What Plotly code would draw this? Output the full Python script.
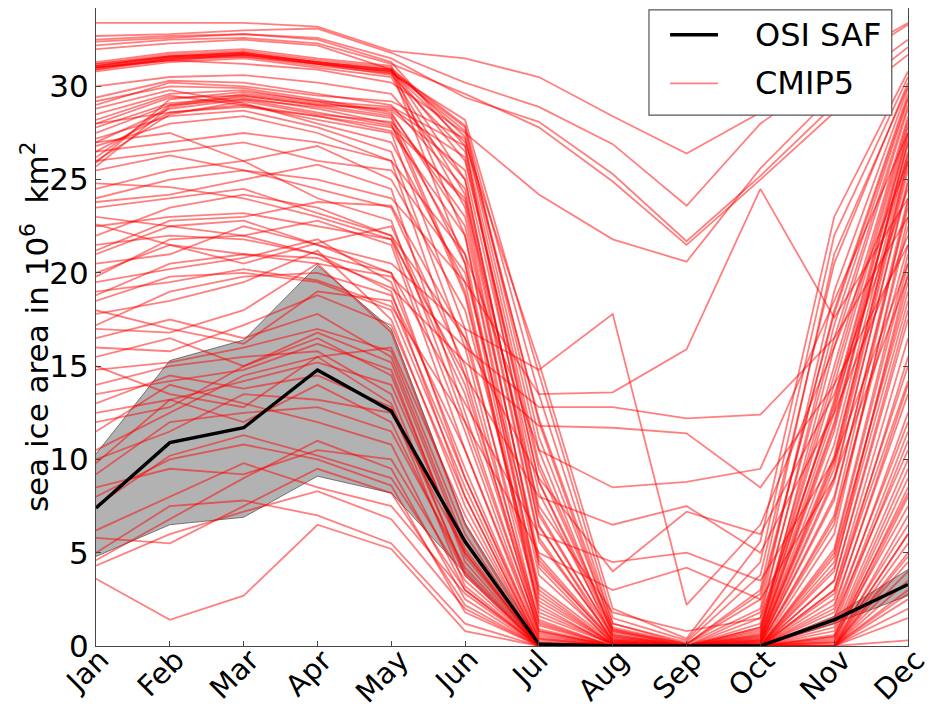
import plotly.graph_objects as go

# Month labels for the seasonal cycle
months = ["Jan", "Feb", "Mar", "Apr", "May", "Jun",
          "Jul", "Aug", "Sep", "Oct", "Nov", "Dec"]

# OSI SAF observed sea ice area (10^6 km^2): mean and spread envelope
osisaf_mean = [7.4, 10.9, 11.7, 14.8, 12.6, 5.6, 0.1, 0.0, 0.0, 0.0, 1.4, 3.3]
osisaf_low = [4.8, 6.5, 6.9, 9.1, 8.2, 3.9, 0.0, 0.0, 0.0, 0.0, 1.2, 2.7]
osisaf_high = [10.3, 15.3, 16.4, 20.4, 17.0, 6.6, 0.2, 0.0, 0.0, 0.0, 1.6, 4.1]

# CMIP5 model climatologies, grouped by their winter ice area
cmip5_summer_ice = [
    [33.4, 33.4, 33.4, 33.2, 31.9, 31.5, 30.5, 28.4, 26.4, 28.6, 31.2, 33.4],
    [32.7, 32.8, 33.0, 33.1, 31.8, 30.2, 28.9, 26.9, 23.6, 28.0, 30.8, 33.3],
    [32.4, 32.6, 32.8, 32.6, 31.5, 29.4, 28.1, 25.3, 21.7, 25.2, 29.0, 32.1],
    [32.2, 32.5, 32.6, 32.3, 31.2, 29.6, 27.8, 24.9, 21.5, 25.0, 28.6, 31.7],
    [31.0, 31.4, 31.2, 30.9, 30.2, 27.5, 24.2, 21.8, 20.6, 25.6, 29.6, 32.5],
]

cmip5_high = [
    [31.1, 31.6, 31.8, 31.3, 30.9, 27.9, 13.5, 1.2, 0.2, 3.8, 20.5, 30.2],
    [31.0, 31.5, 31.7, 31.2, 30.8, 27.6, 12.0, 0.9, 0.1, 2.5, 18.0, 29.6],
    [30.9, 31.4, 31.6, 31.1, 30.7, 28.2, 14.6, 1.5, 0.3, 4.5, 22.0, 30.5],
    [31.2, 31.7, 31.9, 31.4, 31.0, 27.3, 10.5, 0.6, 0.0, 1.8, 16.5, 29.0],
    [31.0, 31.5, 31.6, 31.2, 30.6, 26.5, 8.8, 0.4, 0.0, 1.2, 15.0, 28.4],
    [31.1, 31.6, 31.8, 31.3, 30.9, 25.0, 6.5, 0.2, 0.0, 0.8, 13.2, 27.8],
    [30.8, 31.3, 31.5, 31.0, 30.5, 23.5, 4.2, 0.1, 0.0, 0.5, 11.8, 26.9],
    [31.3, 31.8, 32.0, 31.5, 31.1, 22.0, 2.8, 0.1, 0.0, 0.4, 10.2, 26.0],
    [31.0, 31.4, 31.7, 31.2, 30.8, 27.0, 15.2, 2.0, 0.4, 5.6, 23.0, 30.8],
    [32.0, 32.3, 32.5, 32.2, 30.9, 26.0, 9.5, 0.8, 0.1, 2.0, 19.0, 29.9],
    [30.9, 31.5, 31.7, 31.2, 30.8, 27.8, 11.2, 1.0, 0.1, 3.0, 21.0, 30.0],
    [31.1, 31.6, 31.8, 31.3, 30.7, 24.2, 5.8, 0.3, 0.0, 1.0, 14.0, 28.0],
    [31.2, 31.6, 31.7, 31.3, 30.9, 20.5, 1.8, 0.1, 0.0, 0.6, 12.5, 27.5],
    [32.5, 32.7, 32.8, 32.5, 31.3, 26.8, 7.2, 0.5, 0.0, 1.5, 17.2, 29.3],
]

cmip5_upper_mid = [
    [29.4, 30.3, 30.2, 29.6, 29.0, 24.5, 7.0, 0.6, 0.0, 0.6, 12.0, 27.0],
    [29.2, 30.0, 29.9, 29.3, 28.6, 22.5, 4.8, 0.3, 0.0, 0.3, 9.5, 25.5],
    [28.5, 29.6, 29.8, 29.2, 28.9, 26.8, 9.8, 0.9, 0.0, 1.0, 14.5, 28.2],
    [28.0, 29.4, 29.5, 29.0, 28.4, 20.5, 3.2, 0.2, 0.0, 0.2, 7.8, 24.0],
    [27.8, 29.1, 29.4, 28.8, 28.0, 18.8, 2.0, 0.1, 0.0, 0.1, 6.5, 22.5],
    [27.5, 29.0, 29.6, 29.1, 28.7, 25.5, 8.2, 0.7, 0.0, 0.9, 13.0, 27.5],
    [27.0, 28.8, 29.3, 28.6, 27.9, 21.0, 2.6, 0.1, 0.0, 0.1, 8.8, 25.0],
    [26.5, 28.6, 29.0, 28.2, 27.5, 17.0, 1.2, 0.0, 0.0, 0.0, 5.2, 21.0],
    [26.0, 28.5, 29.2, 28.5, 28.1, 23.8, 5.6, 0.4, 0.0, 0.4, 10.8, 26.5],
    [25.7, 28.9, 29.5, 29.0, 28.8, 26.2, 8.8, 0.8, 0.0, 0.7, 16.0, 28.8],
    [28.8, 29.8, 29.1, 28.0, 27.0, 19.5, 1.6, 0.1, 0.0, 0.0, 6.0, 23.0],
    [29.0, 30.2, 30.0, 29.5, 29.2, 27.2, 12.2, 1.2, 0.1, 2.8, 17.8, 29.4],
    [27.2, 28.4, 28.7, 27.8, 26.5, 16.0, 0.8, 0.0, 0.0, 0.0, 4.5, 19.5],
    [28.2, 29.5, 29.0, 28.4, 27.6, 22.0, 3.8, 0.2, 0.0, 0.2, 9.0, 24.8],
    [26.8, 28.0, 28.4, 27.5, 26.0, 14.5, 0.6, 0.0, 0.0, 0.0, 3.5, 18.0],
    [30.0, 30.5, 30.6, 30.2, 29.6, 25.0, 6.4, 0.5, 0.0, 0.5, 11.5, 27.2],
    [25.9, 29.3, 29.7, 29.2, 28.5, 23.0, 4.4, 0.3, 0.0, 0.3, 10.0, 26.2],
    [26.2, 29.0, 29.3, 28.9, 28.3, 19.0, 2.4, 0.1, 0.0, 0.1, 7.0, 23.8],
]

cmip5_mid = [
    [25.5, 26.3, 25.5, 24.5, 23.5, 15.0, 1.4, 0.0, 0.0, 0.0, 5.0, 20.5],
    [24.5, 25.5, 26.0, 26.8, 25.0, 18.0, 3.0, 0.1, 0.0, 0.2, 8.0, 23.5],
    [23.8, 24.2, 25.0, 25.8, 24.5, 12.5, 0.8, 0.0, 0.0, 0.0, 3.5, 17.5],
    [23.0, 22.5, 22.0, 22.8, 21.5, 10.5, 0.4, 0.0, 0.0, 0.0, 2.5, 15.5],
    [22.0, 23.5, 24.2, 23.5, 22.0, 13.5, 1.1, 0.0, 0.0, 0.0, 4.2, 18.5],
    [21.2, 22.8, 23.0, 23.8, 23.6, 16.5, 2.2, 0.0, 0.0, 0.1, 6.8, 21.5],
    [20.5, 21.0, 22.5, 21.5, 20.0, 9.0, 0.2, 0.0, 0.0, 0.0, 2.0, 14.0],
    [26.0, 26.5, 27.0, 26.0, 25.5, 20.0, 4.6, 0.2, 0.0, 0.3, 9.8, 25.8],
    [19.8, 21.8, 22.0, 21.0, 19.0, 8.0, 0.1, 0.0, 0.0, 0.0, 1.5, 12.5],
    [24.8, 24.6, 24.0, 23.0, 21.8, 11.5, 0.5, 0.0, 0.0, 0.0, 3.0, 16.5],
    [22.6, 21.5, 20.5, 21.6, 22.5, 14.0, 1.3, 0.0, 0.0, 0.0, 4.8, 19.0],
    [27.0, 27.5, 26.0, 24.0, 22.8, 12.0, 0.9, 0.0, 0.0, 0.0, 4.0, 20.0],
]

cmip5_lower_mid = [
    [19.5, 20.2, 20.8, 21.8, 19.5, 9.5, 0.3, 0.0, 0.0, 0.0, 2.2, 13.5],
    [18.5, 19.8, 20.0, 19.5, 18.0, 8.5, 0.1, 0.0, 0.0, 0.0, 1.8, 12.0],
    [17.8, 18.5, 19.5, 21.2, 17.5, 7.5, 0.0, 0.0, 0.0, 0.0, 1.0, 11.0],
    [17.0, 16.8, 18.0, 20.5, 16.8, 6.5, 0.0, 0.0, 0.0, 0.0, 0.8, 10.0],
    [16.5, 17.5, 16.5, 17.8, 15.5, 5.5, 0.0, 0.0, 0.0, 0.0, 0.5, 9.0],
    [16.0, 15.8, 17.2, 18.8, 17.2, 8.0, 0.1, 0.0, 0.0, 0.0, 1.2, 11.5],
    [15.5, 16.5, 15.0, 16.5, 14.5, 4.8, 0.0, 0.0, 0.0, 0.0, 0.2, 8.0],
    [14.8, 15.2, 16.0, 17.0, 15.8, 6.0, 0.0, 0.0, 0.0, 0.0, 0.6, 9.5],
    [14.0, 15.0, 15.5, 15.8, 13.5, 3.8, 0.0, 0.0, 0.0, 0.0, 0.0, 7.0],
    [13.5, 14.2, 14.8, 16.2, 14.8, 4.5, 0.0, 0.0, 0.0, 0.0, 0.3, 8.5],
    [13.0, 14.5, 13.8, 14.5, 12.8, 3.2, 0.0, 0.0, 0.0, 0.0, 0.0, 6.0],
    [12.5, 13.2, 14.2, 15.2, 14.0, 5.0, 0.0, 0.0, 0.0, 0.0, 0.4, 7.5],
    [12.0, 12.8, 15.0, 16.8, 15.2, 5.2, 0.0, 0.0, 0.0, 0.0, 0.5, 8.2],
    [17.2, 19.0, 19.8, 20.0, 18.8, 10.5, 0.7, 0.0, 0.0, 0.0, 3.0, 15.0],
    [18.0, 17.0, 16.2, 19.0, 18.5, 9.0, 0.4, 0.0, 0.0, 0.0, 2.8, 14.2],
    [15.0, 13.5, 12.8, 15.5, 16.0, 7.0, 0.1, 0.0, 0.0, 0.0, 1.5, 10.5],
]

cmip5_low = [
    [3.6, 1.4, 2.7, 6.5, 5.2, 0.8, 0.0, 0.0, 0.0, 0.0, 0.0, 0.3],
    [4.3, 6.0, 7.2, 8.3, 6.8, 2.0, 0.0, 0.0, 0.0, 0.0, 0.0, 2.0],
    [5.0, 7.5, 7.8, 7.0, 5.5, 1.2, 0.0, 0.0, 0.0, 0.0, 0.0, 1.5],
    [6.2, 8.0, 9.8, 8.5, 7.5, 2.8, 0.0, 0.0, 0.0, 0.0, 0.0, 3.0],
    [7.5, 10.2, 11.3, 10.2, 9.0, 3.0, 0.0, 0.0, 0.0, 0.0, 0.0, 4.0],
    [8.5, 9.5, 9.2, 10.5, 10.0, 3.5, 0.0, 0.0, 0.0, 0.0, 0.0, 4.5],
    [9.2, 12.0, 12.5, 12.8, 11.5, 4.2, 0.0, 0.0, 0.0, 0.0, 0.0, 5.5],
    [10.0, 11.5, 13.5, 13.2, 12.5, 5.0, 0.0, 0.0, 0.0, 0.0, 0.2, 6.5],
    [9.8, 13.2, 12.0, 14.0, 12.0, 3.8, 0.0, 0.0, 0.0, 0.0, 0.0, 5.0],
    [10.5, 12.5, 14.5, 15.5, 13.0, 4.0, 0.0, 0.0, 0.0, 0.0, 0.1, 6.0],
    [11.5, 14.0, 13.0, 12.0, 10.8, 3.0, 0.0, 0.0, 0.0, 0.0, 0.0, 4.8],
    [5.8, 5.5, 7.5, 9.5, 8.2, 2.2, 0.0, 0.0, 0.0, 0.0, 0.0, 2.5],
    [4.6, 6.8, 9.0, 11.0, 9.5, 2.5, 0.0, 0.0, 0.0, 0.0, 0.0, 3.5],
    [8.0, 10.0, 10.8, 10.0, 8.6, 1.8, 0.0, 0.0, 0.0, 0.0, 0.0, 2.8],
]

cmip5_irregular = [
    [21.0, 22.5, 22.8, 21.5, 20.5, 17.0, 14.8, 17.8, 2.2, 6.5, 16.0, 26.0],
    [24.0, 25.0, 25.5, 25.0, 24.0, 19.5, 13.5, 13.6, 15.9, 24.5, 17.6, 24.0],
    [20.0, 21.5, 21.0, 20.5, 19.8, 16.0, 12.8, 12.8, 12.2, 12.4, 16.5, 23.0],
    [18.8, 20.5, 21.0, 20.8, 19.2, 15.2, 11.8, 11.7, 11.4, 8.5, 14.0, 21.5],
    [26.5, 27.0, 27.5, 27.0, 26.0, 21.0, 10.5, 8.5, 8.8, 9.5, 18.5, 27.5],
    [22.5, 23.0, 23.2, 22.5, 21.8, 14.5, 8.0, 6.5, 7.5, 5.0, 12.5, 22.0],
    [21.5, 22.0, 21.8, 21.0, 20.0, 13.0, 6.0, 4.5, 5.0, 3.5, 10.0, 20.5],
    [19.0, 19.5, 20.2, 19.6, 18.2, 12.0, 5.0, 3.0, 4.2, 2.5, 9.0, 19.8],
    [23.5, 24.0, 24.5, 23.2, 22.0, 16.5, 9.0, 4.0, 7.2, 6.0, 13.5, 24.5],
    [28.0, 28.6, 28.9, 28.4, 27.8, 24.0, 7.5, 1.8, 0.8, 1.5, 12.8, 26.4],
]

x = list(range(len(months)))
fig = go.Figure()

# Observational envelope (lower edge, then filled up to upper edge)
fig.add_trace(go.Scatter(x=x, y=osisaf_low, mode="lines",
                         line=dict(color="rgba(60,60,60,0.8)", width=0.8),
                         hoverinfo="skip", showlegend=False))
fig.add_trace(go.Scatter(x=x, y=osisaf_high, mode="lines", fill="tonexty",
                         fillcolor="rgb(178,178,178)",
                         line=dict(color="rgba(60,60,60,0.8)", width=0.8),
                         hoverinfo="skip", showlegend=False))

# Model spaghetti
model_groups = [cmip5_summer_ice, cmip5_high, cmip5_upper_mid, cmip5_mid,
                cmip5_lower_mid, cmip5_low, cmip5_irregular]
for group in model_groups:
    for series in group:
        fig.add_trace(go.Scatter(x=x, y=series, mode="lines",
                                 line=dict(color="rgba(255,0,0,0.5)", width=1.8),
                                 showlegend=False))

# Observed mean
fig.add_trace(go.Scatter(x=x, y=osisaf_mean, mode="lines",
                         line=dict(color="black", width=3.4), showlegend=False))

axis_color = "rgb(70,70,70)"
fig.update_layout(
    width=934, height=711,
    margin=dict(l=96, r=26, t=8, b=65),
    paper_bgcolor="white", plot_bgcolor="white",
    font=dict(family="DejaVu Sans", color="black"),
    xaxis=dict(range=[0, 11], tickvals=x, showticklabels=False,
               ticks="inside", ticklen=5, tickcolor=axis_color,
               showline=True, linecolor=axis_color, linewidth=1.2,
               mirror=False, showgrid=False, zeroline=False),
    yaxis=dict(range=[0, 34.2], tickvals=[0, 5, 10, 15, 20, 25, 30],
               ticks="inside", ticklen=5, tickcolor=axis_color,
               tickfont=dict(size=31, family="DejaVu Sans", color="black"),
               showline=True, linecolor=axis_color, linewidth=1.2,
               mirror="ticks", showgrid=False, zeroline=False),
)

# Rotated month labels
for i, m in enumerate(months):
    fig.add_annotation(x=i, y=0, xref="x", yref="paper", text=m,
                       textangle=-45, showarrow=False,
                       xanchor="center", yanchor="top", xshift=-9, yshift=6,
                       font=dict(size=29, family="DejaVu Sans", color="black"))

# Y axis title
fig.add_annotation(x=-0.075, y=0.5, xref="paper", yref="paper",
                   text="sea ice area in 10<sup>6</sup>  km<sup>2</sup>",
                   textangle=-90, showarrow=False,
                   xanchor="center", yanchor="middle",
                   font=dict(size=31, family="DejaVu Sans", color="black"))

# Legend box
fig.add_shape(type="rect", xref="paper", yref="paper",
              x0=0.681, x1=0.980, y0=0.832, y1=0.997,
              fillcolor="white", line=dict(color="rgb(85,85,85)", width=1.2),
              layer="above")
fig.add_shape(type="line", xref="paper", yref="paper",
              x0=0.707, x1=0.766, y0=0.958, y1=0.958,
              line=dict(color="black", width=3.4), layer="above")
fig.add_shape(type="line", xref="paper", yref="paper",
              x0=0.707, x1=0.766, y0=0.882, y1=0.882,
              line=dict(color="rgba(255,0,0,0.5)", width=1.8), layer="above")
fig.add_annotation(x=0.809, y=0.958, xref="paper", yref="paper",
                   text="OSI SAF", showarrow=False,
                   xanchor="left", yanchor="middle",
                   font=dict(size=32, family="DejaVu Sans", color="black"))
fig.add_annotation(x=0.809, y=0.882, xref="paper", yref="paper",
                   text="CMIP5", showarrow=False,
                   xanchor="left", yanchor="middle",
                   font=dict(size=32, family="DejaVu Sans", color="black"))

fig.write_html("out.html")
